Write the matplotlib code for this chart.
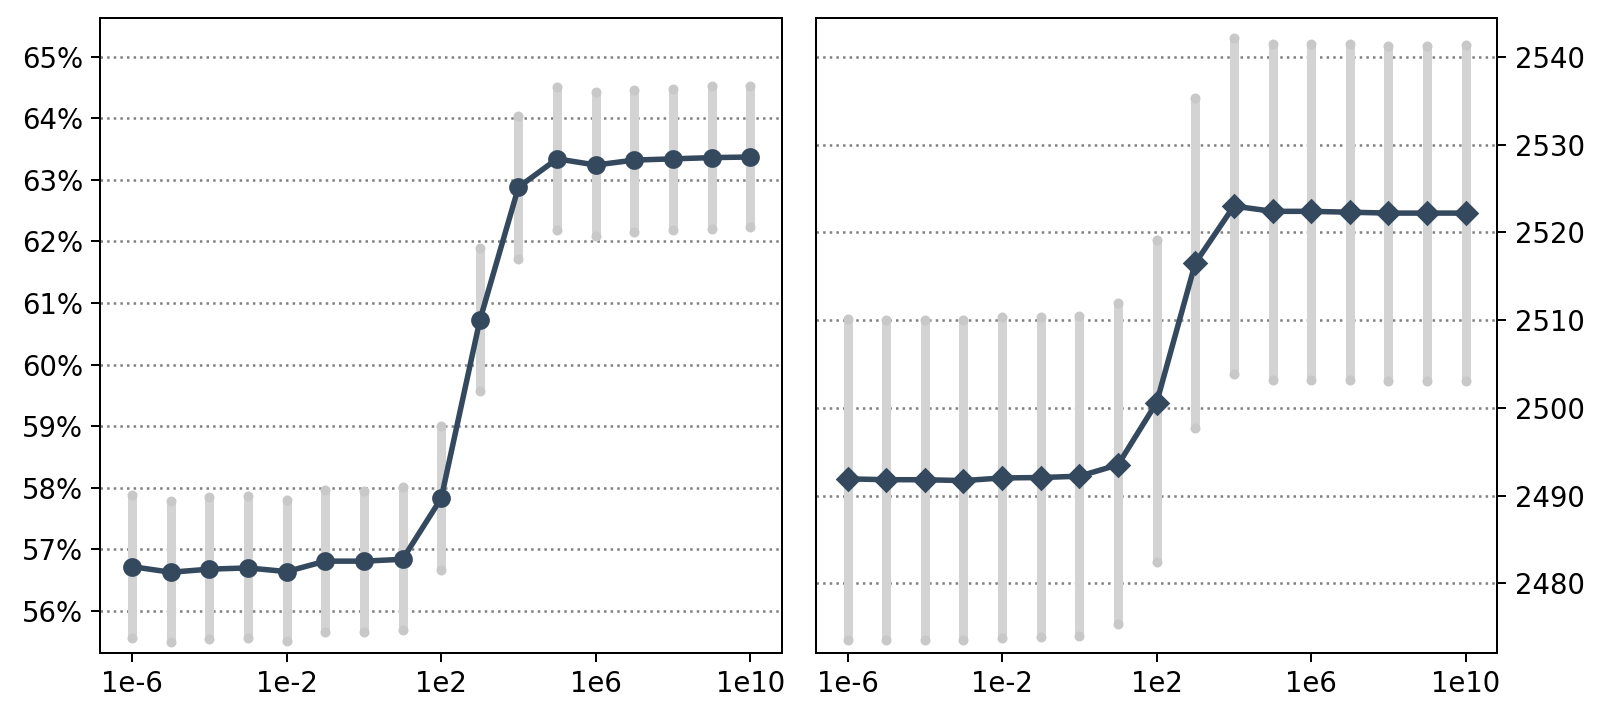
import numpy as np
import matplotlib
matplotlib.use("Agg")
import matplotlib.pyplot as plt
from matplotlib.ticker import FixedLocator, FixedFormatter, NullLocator

# regularisation values, 1e-6 ... 1e10
exponents = list(range(-6, 11))

# left panel: accuracy in percent
acc_mean = [56.72, 56.63, 56.68, 56.70, 56.64, 56.81, 56.81, 56.84, 57.83,
            60.72, 62.88, 63.34, 63.24, 63.32, 63.34, 63.36, 63.37]
acc_hi = [57.88, 57.78, 57.85, 57.86, 57.80, 57.96, 57.95, 58.02, 59.01,
          61.89, 64.04, 64.50, 64.42, 64.46, 64.48, 64.53, 64.53]
acc_lo = [55.57, 55.49, 55.54, 55.57, 55.51, 55.66, 55.66, 55.69, 56.66,
          59.57, 61.71, 62.19, 62.09, 62.16, 62.19, 62.20, 62.24]

# right panel: score
score_mean = [2491.9, 2491.8, 2491.8, 2491.7, 2492.0, 2492.05, 2492.2, 2493.5,
              2500.6, 2516.5, 2523.0, 2522.4, 2522.4, 2522.3, 2522.2, 2522.2, 2522.2]
score_hi = [2510.1, 2510.0, 2510.0, 2510.0, 2510.3, 2510.3, 2510.5, 2511.9,
            2519.1, 2535.3, 2542.2, 2541.5, 2541.5, 2541.5, 2541.3, 2541.3, 2541.4]
score_lo = [2473.5, 2473.5, 2473.5, 2473.5, 2473.8, 2473.9, 2474.0, 2475.3,
            2482.4, 2497.7, 2503.9, 2503.2, 2503.2, 2503.2, 2503.0, 2503.0, 2503.0]

xtick_labels = ['1e-6', '1e-2', '1e2', '1e6', '1e10']
acc_ticks = [56, 57, 58, 59, 60, 61, 62, 63, 64, 65]
score_ticks = [2480, 2490, 2500, 2510, 2520, 2530, 2540]

LINE = '#34495e'
BAR = '#d3d3d3'
BAR_END = '#c8c8c8'

x = np.array([10.0 ** e for e in exponents])


def draw_panel(ax, mean, lo, hi, marker, ms):
    ax.vlines(x, lo, hi, color=BAR, lw=3.6, zorder=1)
    ax.plot(x, lo, 'o', color=BAR_END, ms=4, mec='none', zorder=1)
    ax.plot(x, hi, 'o', color=BAR_END, ms=4, mec='none', zorder=1)
    ax.plot(x, mean, marker=marker, color=LINE, lw=2.2, ms=ms, zorder=3)
    ax.set_xscale('log')
    ax.set_xlim(10 ** -6.82, 10 ** 10.82)
    ax.xaxis.set_major_locator(FixedLocator([1e-6, 1e-2, 1e2, 1e6, 1e10]))
    ax.xaxis.set_major_formatter(FixedFormatter(xtick_labels))
    ax.xaxis.set_minor_locator(NullLocator())
    ax.grid(axis='y', ls=':', color='gray', lw=1)
    ax.set_axisbelow(True)
    ax.tick_params(labelsize=11)


fig = plt.figure(figsize=(1607 / 180, 721 / 180), dpi=180)
ax1 = fig.add_axes([0.0625, 0.0944, 0.4241, 0.8801])
ax2 = fig.add_axes([0.5077, 0.0944, 0.4241, 0.8801])

draw_panel(ax1, acc_mean, acc_lo, acc_hi, 'o', 6.5)
ax1.set_ylim(55.32, 65.62)
ax1.set_yticks(acc_ticks)
ax1.set_yticklabels([f'{t}%' for t in acc_ticks])

draw_panel(ax2, score_mean, score_lo, score_hi, 'D', 6.5)
ax2.set_ylim(2472.05, 2544.4)
ax2.set_yticks(score_ticks)
ax2.yaxis.tick_right()

fig.savefig('out.png', dpi=180)
